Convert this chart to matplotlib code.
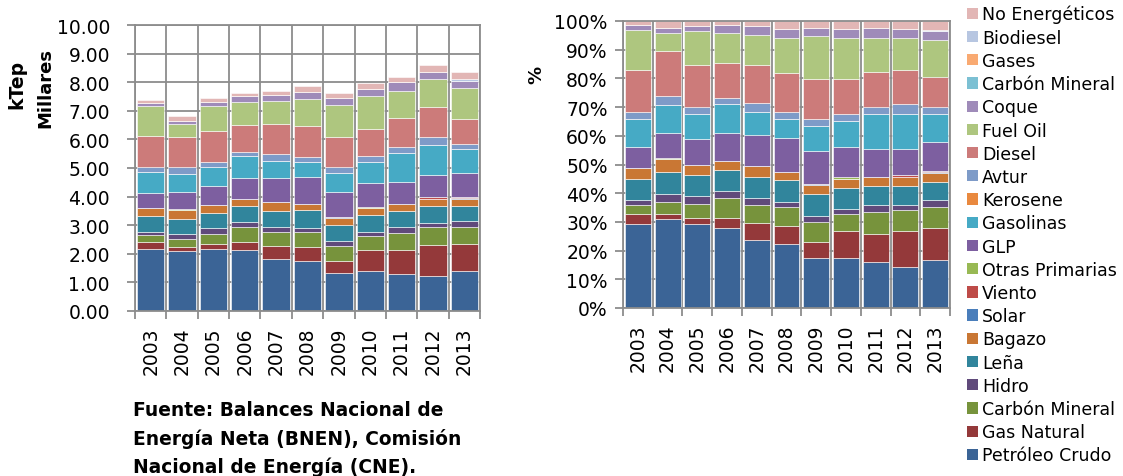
import numpy as np
import matplotlib
matplotlib.use("Agg")
import matplotlib.pyplot as plt
from matplotlib.ticker import FixedLocator, FuncFormatter
from matplotlib.patches import Patch

# Consumo de energía por fuente, miles de kTep
years = ["2003", "2004", "2005", "2006", "2007", "2008",
         "2009", "2010", "2011", "2012", "2013"]

petroleo_crudo = [2.155, 2.104, 2.172, 2.134, 1.817, 1.749, 1.326, 1.389, 1.309, 1.221, 1.403]
gas_natural    = [0.258, 0.123, 0.171, 0.267, 0.462, 0.496, 0.427, 0.742, 0.810, 1.075, 0.927]
carbon_mineral_prim = [0.229, 0.293, 0.365, 0.526, 0.477, 0.528, 0.518, 0.495, 0.622, 0.636, 0.610]
hidro          = [0.133, 0.177, 0.193, 0.175, 0.185, 0.142, 0.168, 0.120, 0.188, 0.146, 0.200]
lena           = [0.539, 0.524, 0.543, 0.564, 0.562, 0.599, 0.579, 0.599, 0.556, 0.585, 0.518]
bagazo         = [0.280, 0.313, 0.260, 0.236, 0.300, 0.229, 0.244, 0.239, 0.254, 0.267, 0.259]
solar          = [0.0, 0.0, 0.0, 0.0, 0.0, 0.0, 0.038, 0.0, 0.0, 0.0, 0.033]
viento         = [0.0, 0.0, 0.0, 0.0, 0.0, 0.0, 0.0, 0.0, 0.0, 0.052, 0.042]
otras_primarias = [0.0, 0.027, 0.0, 0.0, 0.0, 0.0, 0.0, 0.056, 0.0, 0.0, 0.0]
glp            = [0.546, 0.592, 0.684, 0.747, 0.847, 0.930, 0.876, 0.838, 0.785, 0.774, 0.843]
gasolinas      = [0.716, 0.654, 0.647, 0.762, 0.608, 0.520, 0.648, 0.726, 0.998, 1.049, 0.818]
kerosene       = [0.0, 0.0, 0.0, 0.0, 0.0, 0.0, 0.0, 0.0, 0.0, 0.0, 0.0]
avtur          = [0.177, 0.225, 0.179, 0.152, 0.246, 0.189, 0.198, 0.200, 0.213, 0.292, 0.200]
diesel         = [1.077, 1.069, 1.079, 0.945, 1.024, 1.072, 1.067, 0.974, 0.998, 1.023, 0.868]
fuel_oil       = [1.048, 0.422, 0.885, 0.792, 0.801, 0.969, 1.128, 1.141, 0.965, 0.980, 1.069]
coque          = [0.125, 0.129, 0.119, 0.221, 0.223, 0.229, 0.229, 0.231, 0.294, 0.249, 0.259]
carbon_mineral_sec = [0.0, 0.0, 0.0, 0.0, 0.0, 0.0, 0.0, 0.0, 0.0, 0.0, 0.0]
gases          = [0.0, 0.0, 0.0, 0.0, 0.0, 0.0, 0.0, 0.0, 0.0, 0.0, 0.0]
biodiesel      = [0.0, 0.0, 0.0, 0.0, 0.0, 0.0, 0.0, 0.0, 0.0, 0.0, 0.050]
no_energeticos = [0.096, 0.157, 0.141, 0.099, 0.146, 0.229, 0.175, 0.231, 0.188, 0.249, 0.251]

series_labels = ["Petróleo Crudo", "Gas Natural", "Carbón Mineral", "Hidro", "Leña",
                 "Bagazo", "Solar", "Viento", "Otras Primarias", "GLP", "Gasolinas",
                 "Kerosene", "Avtur", "Diesel", "Fuel Oil", "Coque", "Carbón Mineral",
                 "Gases", "Biodiesel", "No Energéticos"]
series_values = [petroleo_crudo, gas_natural, carbon_mineral_prim, hidro, lena, bagazo,
                 solar, viento, otras_primarias, glp, gasolinas, kerosene, avtur, diesel,
                 fuel_oil, coque, carbon_mineral_sec, gases, biodiesel, no_energeticos]
series_colors = ["#3B6496", "#94393A", "#77933C", "#604A7B", "#31859C", "#C97734",
                 "#4A7EBB", "#BE4B48", "#98B954", "#7D5FA0", "#46AAC5", "#E9893F",
                 "#7E9BC8", "#CC7B7A", "#AEC67F", "#9F8BB9", "#7CC0D3", "#F9AA72",
                 "#B7C6E1", "#E2B6B5"]

data = np.array(series_values, dtype=float)
totals = data.sum(axis=0)
shares = data / totals * 100.0

GRID = "#8C8C8C"
W, H = 1123, 477
fig = plt.figure(figsize=(W / 100, H / 100), dpi=100)


def px_axes(x0, y0, x1, y1):
    return fig.add_axes([x0 / W, 1 - y1 / H, (x1 - x0) / W, (y1 - y0) / H])


def style_axes(ax, ymax, ypad):
    n = len(years)
    ax.set_xlim(-0.5, n - 0.5)
    ax.set_ylim(0, ymax)
    ax.set_axisbelow(True)
    ax.set_xticks(np.arange(n))
    ax.set_xticklabels(years, rotation=90, fontsize=13.5)
    ax.xaxis.set_minor_locator(FixedLocator(np.arange(-0.5, n, 1.0)))
    ax.tick_params(axis="x", which="major", length=0, pad=11)
    ax.tick_params(axis="x", which="minor", length=6, width=1.3, color=GRID, direction="out")
    ax.tick_params(axis="y", which="major", length=6, width=1.3, color=GRID,
                   direction="out", labelsize=13.5, pad=ypad)
    ax.grid(which="minor", axis="x", color=GRID, linewidth=1.3)
    ax.grid(which="major", axis="y", color=GRID, linewidth=1.3)
    for sp in ax.spines.values():
        sp.set_color(GRID)
        sp.set_linewidth(1.3)


def stack(ax, values):
    x = np.arange(len(years))
    bottom = np.zeros(len(years))
    for vals, color in zip(values, series_colors):
        ax.bar(x, vals, width=0.87, bottom=bottom, color=color,
               edgecolor="white", linewidth=0.4, zorder=2)
        bottom = bottom + vals


# Valores absolutos
ax1 = px_axes(135, 26, 480, 312)
stack(ax1, data)
style_axes(ax1, 10, 12)
ax1.set_yticks(np.arange(0, 11, 1))
ax1.yaxis.set_major_formatter(FuncFormatter(lambda v, p: f"{v:.2f}"))

# Participación porcentual
ax2 = px_axes(623, 22, 950, 309)
stack(ax2, shares)
style_axes(ax2, 100, 5)
ax2.set_yticks(np.arange(0, 101, 10))
ax2.yaxis.set_major_formatter(FuncFormatter(lambda v, p: f"{v:.0f}%"))

fig.text(17 / W, 1 - 84 / H, "kTep", rotation=90, fontsize=13.5, fontweight="bold",
         ha="center", va="center")
fig.text(45 / W, 1 - 88 / H, "Millares", rotation=90, fontsize=13, fontweight="bold",
         ha="center", va="center")
fig.text(536 / W, 1 - 75 / H, "%", rotation=90, fontsize=13, fontweight="bold",
         ha="center", va="center")

source_lines = ["Fuente: Balances Nacional de",
                "Energía Neta (BNEN), Comisión",
                "Nacional de Energía (CNE)."]
for i, line in enumerate(source_lines):
    fig.text(133 / W, 1 - (411 + 28 * i) / H, line, fontsize=13.4, fontweight="bold",
             ha="left", va="center")

handles = [Patch(facecolor=c, edgecolor="none") for c in series_colors][::-1]
labels = series_labels[::-1]
fig.legend(handles, labels, loc="upper left", bbox_to_anchor=(967 / W, 1 - 6 / H),
           frameon=False, fontsize=12.5, handlelength=0.62, handleheight=0.62,
           handletextpad=0.25, labelspacing=0.30, borderaxespad=0, borderpad=0)

fig.savefig("out.png", dpi=100)
